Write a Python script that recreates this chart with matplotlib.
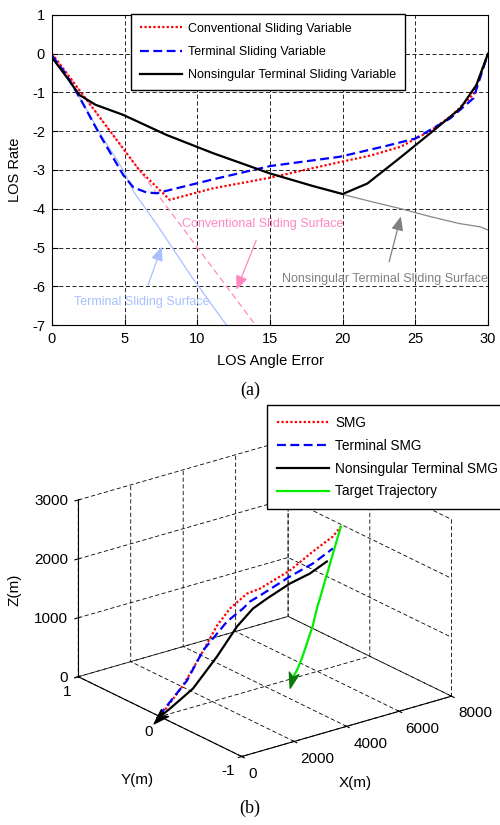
import numpy as np
import matplotlib
matplotlib.use("Agg")
from matplotlib import pyplot as plt
from matplotlib.path import Path
from matplotlib.markers import MarkerStyle
from matplotlib.transforms import Affine2D

plt.rcParams['font.family'] = ['Liberation Sans', 'DejaVu Sans']
plt.rcParams['axes.unicode_minus'] = False
plt.rcParams['grid.linestyle'] = (0, (5, 3))
plt.rcParams['grid.color'] = 'k'
plt.rcParams['grid.linewidth'] = 0.6

# ---- (a) phase plane ----
conv_x = [0, 2, 4, 6, 8.1, 11, 15, 19.3, 22, 24, 26, 27.5, 29, 30]
conv_y = [0, -1.0, -2.0, -3.0, -3.77, -3.48, -3.2, -2.84, -2.62, -2.4, -2.0, -1.6, -1.05, 0]
term_x = [0, 1, 2, 3.3, 4.9, 5.6, 6.5, 7.2, 11, 15, 19.8, 23, 25, 27.4, 29, 30]
term_y = [-0.05, -0.55, -1.2, -2.1, -3.13, -3.45, -3.58, -3.6, -3.25, -2.9, -2.66, -2.38, -2.19, -1.67, -1.15, 0]
nts_x = [0, 1, 1.9, 3, 4.9, 7.9, 11.1, 15, 18, 20, 21.7, 23.9, 26.2, 28.1, 29.2, 30]
nts_y = [-0.1, -0.6, -1.07, -1.32, -1.58, -2.1, -2.57, -3.09, -3.42, -3.62, -3.35, -2.7, -2.0, -1.41, -0.81, 0]

term_surf_x = [0, 1, 2, 3.3, 4.9, 5.6, 7.2, 9.6, 12]
term_surf_y = [0, -0.6, -1.2, -2.05, -3.0, -3.55, -4.4, -5.75, -7.0]
conv_surf_x = [0, 14]
conv_surf_y = [0, -7]
nts_surf_x = [0, 1, 1.9, 3, 4.9, 7.9, 11.1, 15, 18, 20, 22, 24, 26, 28, 29.5, 30]
nts_surf_y = [-0.1, -0.6, -1.07, -1.32, -1.58, -2.1, -2.57, -3.09, -3.42, -3.63, -3.82, -4.0, -4.2, -4.38, -4.47, -4.55]

# ---- (b) 3-D engagement ----
smg_x = [0, 876, 1524, 2172, 2667, 3315, 3810, 4953, 5829, 6591, 6896]
smg_z = [0, 414, 824, 1266, 1492, 1663, 1685, 1846, 2056, 2214, 2344]
tsmg_x = [0, 114, 1029, 1638, 2553, 3162, 3429, 3810, 4953, 5829, 6591]
tsmg_z = [0, 86, 480, 910, 1286, 1429, 1514, 1566, 1744, 1853, 2010]
ntsmg_x = [0, 381, 1257, 2172, 2934, 3543, 4077, 4953, 5715, 6363]
ntsmg_z = [0, 87, 315, 741, 1153, 1380, 1481, 1625, 1697, 1819]
tgt_x = [5029, 5220, 5410, 5829, 5982, 6096, 6896]
tgt_z = [0, 117, 295, 802, 1070, 1225, 2344]

fig = plt.figure(figsize=(5, 8.25), dpi=100)

ax = fig.add_axes([0.104, 0.606, 0.872, 0.376])
ax.plot(term_surf_x, term_surf_y, color='#a8c0ff', lw=0.9)
ax.plot(conv_surf_x, conv_surf_y, color='#ff88c0', lw=0.9, ls=(0, (5, 3)))
ax.plot(nts_surf_x, nts_surf_y, color='#888888', lw=0.9)
ax.plot(conv_x, conv_y, color='r', lw=1.6, ls=(0, (1, 1)), label='Conventional Sliding Variable')
ax.plot(term_x, term_y, color='b', lw=1.6, ls=(0, (4, 2)), label='Terminal Sliding Variable')
ax.plot(nts_x, nts_y, color='k', lw=1.6, label='Nonsingular Terminal Sliding Variable')
ax.set_xlim(0, 30)
ax.set_ylim(-7, 1)
ax.set_xticks(range(0, 31, 5))
ax.set_yticks(range(-7, 2))
ax.grid(True)
ax.tick_params(direction='in', labelsize=10.5, length=4, pad=5)
ax.set_xlabel('LOS Angle Error', fontsize=10.5, labelpad=6)
ax.set_ylabel('LOS Rate', fontsize=10.5, labelpad=7)
ax.legend(loc='upper left', bbox_to_anchor=(0.262, 0.983), bbox_transform=fig.transFigure,
          fontsize=9, fancybox=False, edgecolor='k', framealpha=1, borderaxespad=0,
          handlelength=3.4, handletextpad=0.5, borderpad=0.7, labelspacing=0.9)

arrow_kw = dict(arrowstyle='-|>,head_length=0.7,head_width=0.3', lw=0.9, shrinkA=6, shrinkB=0,
                mutation_scale=12)
ax.annotate('Conventional Sliding Surface', xy=(12.7, -6.09), xytext=(14.5, -4.39),
            color='#ff88c0', fontsize=9, ha='center', va='center',
            arrowprops=dict(color='#ff88c0', **arrow_kw))
ax.annotate('Terminal Sliding Surface', xy=(7.55, -4.98), xytext=(6.2, -6.4),
            color='#a8c0ff', fontsize=9, ha='center', va='center',
            arrowprops=dict(color='#a8c0ff', **arrow_kw))
ax.annotate('Nonsingular Terminal Sliding Surface', xy=(24.0, -4.2), xytext=(22.9, -5.8),
            color='#808080', fontsize=9, ha='center', va='center',
            arrowprops=dict(color='#808080', **arrow_kw))
fig.text(0.5, 1 - 390 / 825, '(a)', ha='center', va='center', family='Liberation Serif', fontsize=13)

# arrow-head marker
head = Path([(0, 1), (-0.55, -0.7), (0, -0.25), (0.55, -0.7), (0, 1)],
            [Path.MOVETO, Path.LINETO, Path.LINETO, Path.LINETO, Path.CLOSEPOLY])

ax3 = fig.add_axes([0.119, 0.026, 0.8, 0.485], projection='3d', proj_type='ortho')
ax3.view_init(elev=22, azim=-127.5)
ax3.set_box_aspect((265, 269, 191), zoom=1.025)
ax3.plot(smg_x, np.zeros(len(smg_x)), smg_z, color='r', lw=1.6, ls=(0, (1, 1)), label='SMG')
ax3.plot(tsmg_x, np.zeros(len(tsmg_x)), tsmg_z, color='b', lw=1.6, ls=(0, (4, 2)), label='Terminal SMG')
ax3.plot(ntsmg_x, np.zeros(len(ntsmg_x)), ntsmg_z, color='k', lw=1.6, label='Nonsingular Terminal SMG')
ax3.plot(tgt_x, np.zeros(len(tgt_x)), tgt_z, color='#00ee00', lw=1.6, label='Target Trajectory')
ax3.plot([ntsmg_x[0]], [0], [ntsmg_z[0]], ls='none', color='k',
         marker=MarkerStyle(head, transform=Affine2D().rotate_deg(135)), markersize=13)
ax3.plot([tgt_x[0]], [0], [tgt_z[0]], ls='none', color='#0a7a0a',
         marker=MarkerStyle(head, transform=Affine2D().rotate_deg(165)), markersize=13)
ax3.set_xlim(0, 8000)
ax3.set_ylim(-1, 1)
ax3.set_zlim(0, 3000)
ax3.set_xticks([0, 2000, 4000, 6000, 8000])
ax3.set_yticks([-1, 0, 1])
ax3.set_zticks([0, 1000, 2000, 3000])
for a in (ax3.xaxis, ax3.yaxis, ax3.zaxis):
    a.set_pane_color((1, 1, 1, 0))
ax3.tick_params(labelsize=11)
ax3.tick_params(axis='x', pad=-2)
ax3.tick_params(axis='y', pad=-3)
ax3.tick_params(axis='z', pad=-4)
plt.setp(ax3.get_xticklabels(), ha='left')
plt.setp(ax3.get_yticklabels(), ha='right')
plt.setp(ax3.get_zticklabels(), ha='right', va='center_baseline')
fig.text(15 / 500, 1 - 590 / 825, 'Z(m)', rotation=90, ha='center', va='center', fontsize=11)
fig.text(137 / 500, 1 - 780 / 825, 'Y(m)', ha='center', va='center', fontsize=11)
fig.text(355 / 500, 1 - 783 / 825, 'X(m)', ha='center', va='center', fontsize=11)
ax3.legend(loc='upper right', bbox_to_anchor=(1.018, 1 - 405 / 825), bbox_transform=fig.transFigure,
           fontsize=9.8, fancybox=False, edgecolor='k', framealpha=1, borderaxespad=0,
           handlelength=3.8, handletextpad=0.45, borderpad=0.8, labelspacing=0.65)
fig.text(0.5, 1 - 808 / 825, '(b)', ha='center', va='center', family='Liberation Serif', fontsize=13)

fig.savefig('out.png', dpi=100)
